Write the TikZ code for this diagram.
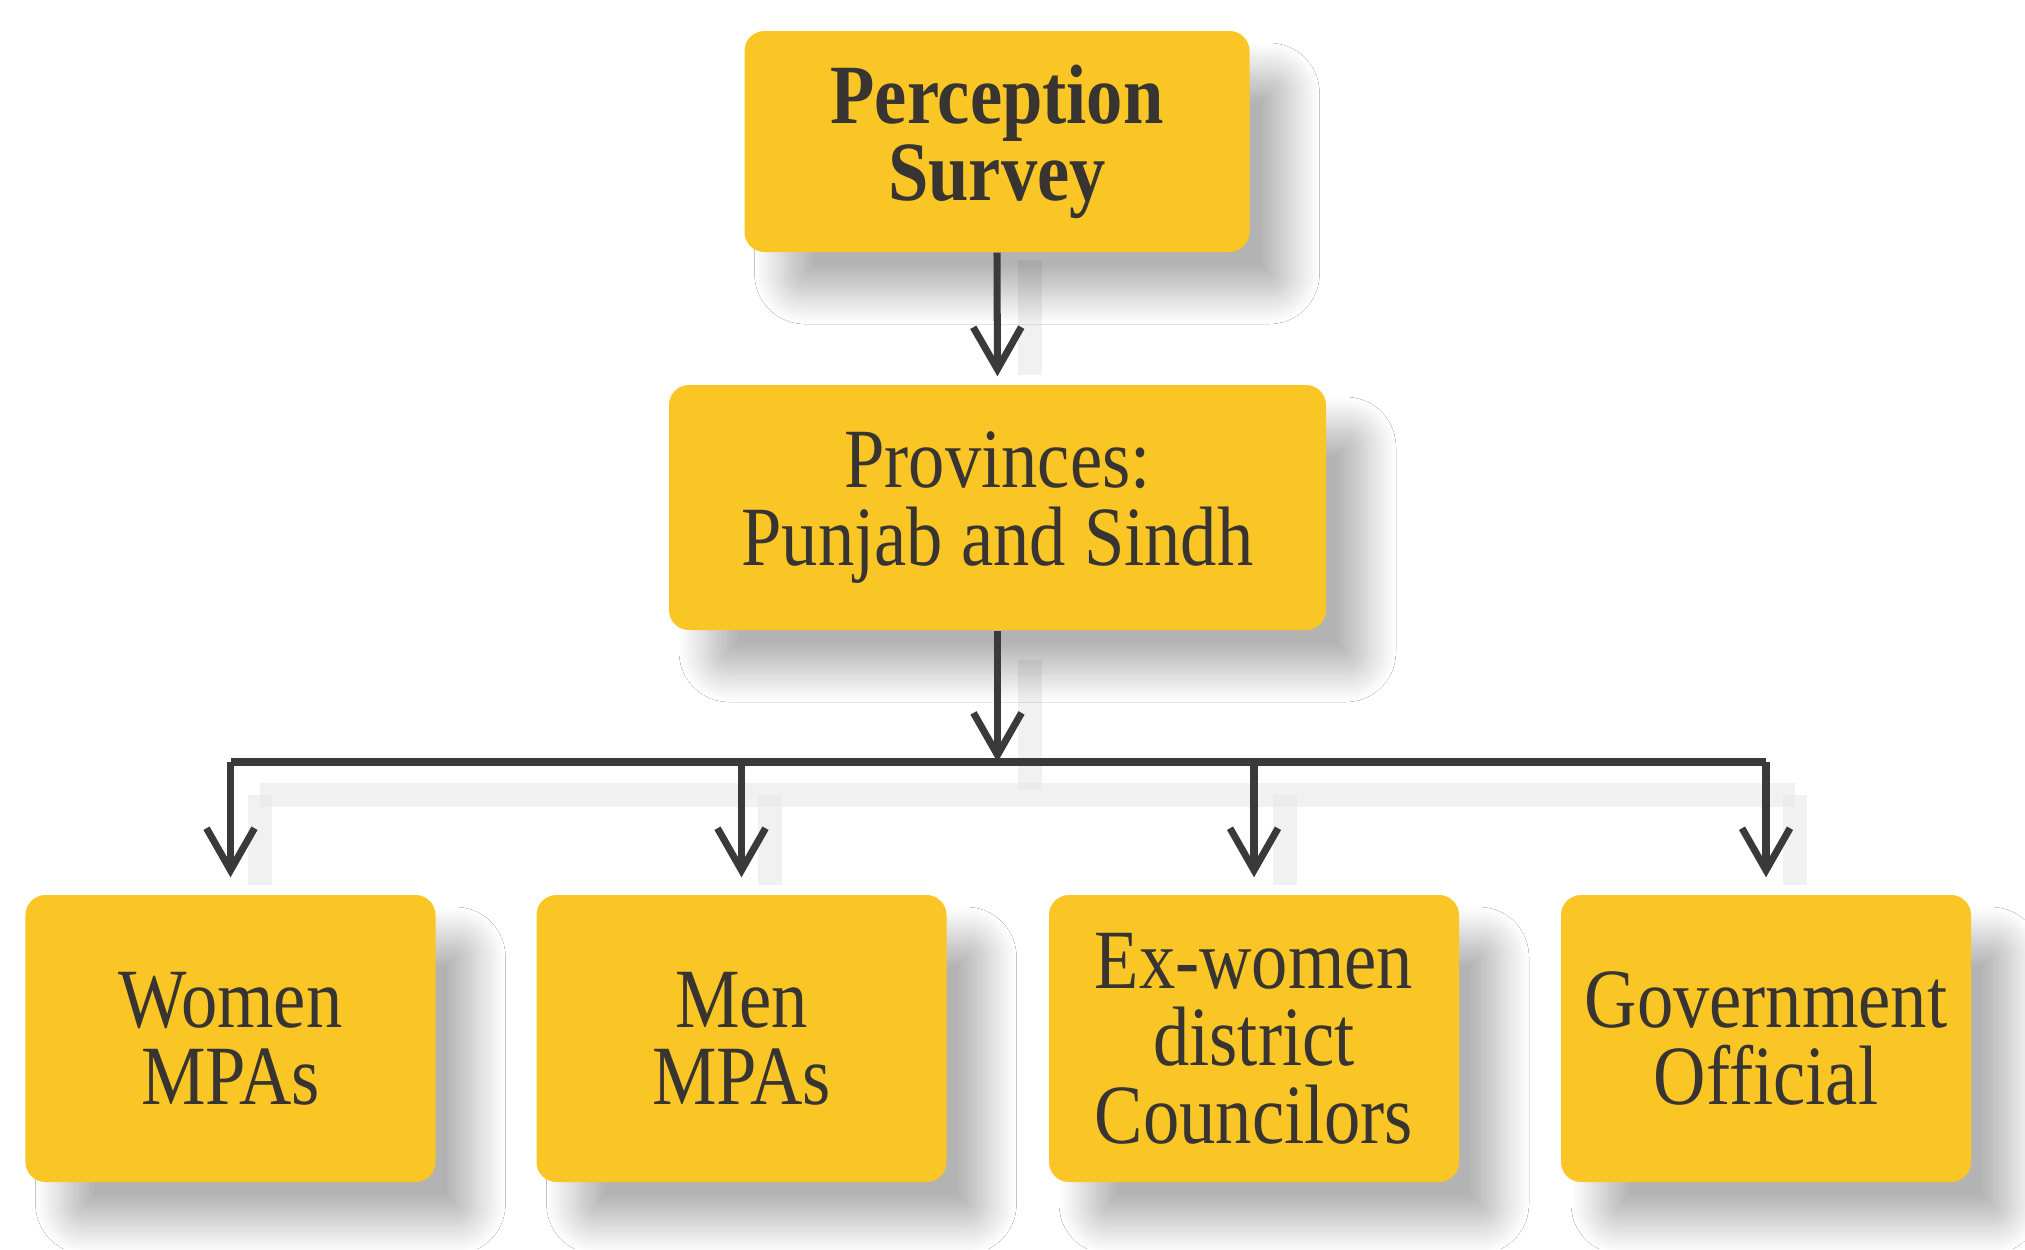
\documentclass[tikz,border=0pt]{standalone}
\usepackage{fontspec}
\setmainfont[FakeStretch=0.86]{Liberation Serif}
\usepackage{tikz}
\usetikzlibrary{arrows.meta,shadows.blur,calc}
\definecolor{boxyellow}{RGB}{250,198,38}
\definecolor{textgray}{RGB}{55,52,50}
\definecolor{linegray}{RGB}{58,58,58}
\tikzstyle{none}=[]
\tikzstyle{box}=[rectangle, rounded corners=0.2cm, fill=boxyellow, text=textgray, align=center, inner sep=0pt,
  font=\fontsize{24}{22}\selectfont,
  blur shadow={shadow xshift=0.4cm, shadow yshift=-0.42cm, shadow blur radius=0.3cm, shadow blur steps=25, shadow opacity=30}]
\tikzstyle{link}=[draw=linegray, line width=2pt]
\tikzstyle{tip}=[-{Straight Barb[length=0.42cm, width=0.48cm]}]
\tikzstyle{ghost}=[draw=black!9, line width=7pt, opacity=0.6]

\begin{document}
\begin{tikzpicture}
                \useasboundingbox [fill=white] (0, 0) rectangle (20.25, -12.49);
                % connector shadows
                \draw [style=ghost] (10.3, -2.6) to (10.3, -3.75);
                \draw [style=ghost] (10.3, -6.6) to (10.3, -7.9);
                \draw [style=ghost] (2.6, -7.95) to (17.95, -7.95);
                \draw [style=ghost] (2.6, -7.95) to (2.6, -8.85);
                \draw [style=ghost] (7.7, -7.95) to (7.7, -8.85);
                \draw [style=ghost] (12.85, -7.95) to (12.85, -8.85);
                \draw [style=ghost] (17.95, -7.95) to (17.95, -8.85);
                \node [style=box, minimum width=5.05cm, minimum height=2.21cm] (0) at (9.97, -1.415) {\bfseries Perception\\\bfseries Survey};
                \node [style=box, minimum width=6.57cm, minimum height=2.45cm] (1) at (9.975, -5.075) {Provinces:\\Punjab and Sindh};
                \node [style=box, minimum width=4.1cm, minimum height=2.87cm] (2) at (2.305, -10.385) {Women\\MPAs};
                \node [style=box, minimum width=4.1cm, minimum height=2.87cm] (3) at (7.415, -10.385) {Men\\MPAs};
                \node [style=box, minimum width=4.1cm, minimum height=2.87cm] (4) at (12.54, -10.385) {Ex-women\\district\\Councilors};
                \node [style=box, minimum width=4.1cm, minimum height=2.87cm] (5) at (17.66, -10.385) {Government\\Official};
                \coordinate (6) at (9.975, -7.62);
                \coordinate (7) at (2.305, -7.62);
                \coordinate (8) at (7.415, -7.62);
                \coordinate (9) at (12.54, -7.62);
                \coordinate (10) at (17.66, -7.62);
                \draw [style=link, style=tip, shorten >=0.08cm] (0.south) to (1.north);
                \draw [style=link, style=tip] (1.south) to (6);
                \draw [style=link] (7) to (10);
                \draw [style=link, style=tip, shorten >=0.17cm] (7) to (2.north);
                \draw [style=link, style=tip, shorten >=0.17cm] (8) to (3.north);
                \draw [style=link, style=tip, shorten >=0.17cm] (9) to (4.north);
                \draw [style=link, style=tip, shorten >=0.17cm] (10) to (5.north);
    \end{tikzpicture}
\end{document}
